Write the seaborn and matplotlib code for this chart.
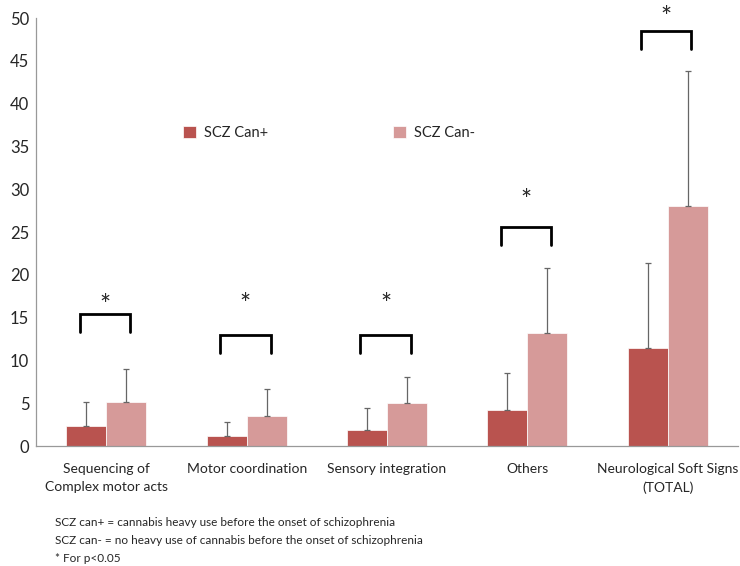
import pandas as pd
import seaborn as sns
import matplotlib.pyplot as plt

# Values
categories = ["Sequencing of\nComplex motor acts", "Motor coordination", "Sensory integration",
              "Others", "Neurological Soft Signs\n(TOTAL)"]
groups = ["SCZ Can+", "SCZ Can-"]
can_plus = [2.3, 1.15, 1.9, 4.2, 11.5]
can_minus = [5.2, 3.5, 5.0, 13.2, 28.1]
sd_plus = [2.9, 1.7, 2.5, 4.35, 9.9]
sd_minus = [3.8, 3.2, 3.1, 7.6, 15.7]
# significance brackets: top of bracket, star height
bracket_top = [15.4, 13.0, 13.0, 25.6, 48.5]
star_y = [16.3, 16.4, 16.4, 28.6, 50.0]
footnotes = ["SCZ can+ = cannabis heavy use before the onset of schizophrenia",
             "SCZ can- = no heavy use of cannabis before the onset of schizophrenia",
             "* For p<0.05"]

df = pd.DataFrame({
    "category": categories * 2,
    "group": [groups[0]] * 5 + [groups[1]] * 5,
    "value": can_plus + can_minus,
})

sns.set_style("white")
plt.rcParams['font.family'] = ['Lato', 'DejaVu Sans']

fig = plt.figure(figsize=(7.4, 5.66), dpi=100)
ax = fig.add_axes([0.049, 0.212, 0.948, 0.756])

palette = {"SCZ Can+": "#B9534F", "SCZ Can-": "#D69A99"}
sns.barplot(data=df, x="category", y="value", hue="group", palette=palette,
            width=0.57, ax=ax, errorbar=None, saturation=1, edgecolor="white", linewidth=0.5)

# one-sided error bars on each bar
for cont, sds in zip(ax.containers, [sd_plus, sd_minus]):
    xs = [p.get_x() + p.get_width() / 2 for p in cont.patches]
    ys = [p.get_height() for p in cont.patches]
    ax.errorbar(xs, ys, yerr=[[0] * len(sds), sds], fmt="none", ecolor="#666666",
                elinewidth=0.9, capsize=2.5, capthick=0.9)

# significance brackets
for i, (top, sy) in enumerate(zip(bracket_top, star_y)):
    x0, x1 = i - 0.19, i + 0.17
    ax.plot([x0, x0, x1, x1], [top - 2.1, top, top, top - 2.1], color="black", lw=2,
            solid_joinstyle="miter", clip_on=False)
    ax.text((x0 + x1) / 2, sy, "*", ha="center", va="center", fontsize=19, clip_on=False)

ax.set_ylim(0, 50)
ax.set_xlim(-0.5, 4.5)
ax.set_yticks(range(0, 51, 5))
ax.tick_params(axis="y", labelsize=12, length=3, color="#cccccc", pad=2)
ax.set_xticks([x + 0.5 for x in range(-1, 5)], minor=True)
ax.tick_params(axis="x", which="minor", length=4, color="#999999")
ax.tick_params(axis="x", which="major", length=0, labelsize=10, pad=12)
for lbl in ax.get_xticklabels():
    lbl.set_linespacing(1.6)
ax.set_xlabel("")
ax.set_ylabel("")
sns.despine(ax=ax)
for s in ["left", "bottom"]:
    ax.spines[s].set_color("#999999")
    ax.spines[s].set_linewidth(0.9)

ax.legend(loc="center left", bbox_to_anchor=(0.191, 0.732), ncol=2, frameon=False,
          fontsize=10.5, handlelength=0.85, handleheight=0.85, handletextpad=0.55,
          columnspacing=8.6)

for k, line in enumerate(footnotes):
    fig.text(0.074, 0.076 - k * 0.031, line, fontsize=8.5, va="center")

plt.savefig("out.png", dpi=100)
